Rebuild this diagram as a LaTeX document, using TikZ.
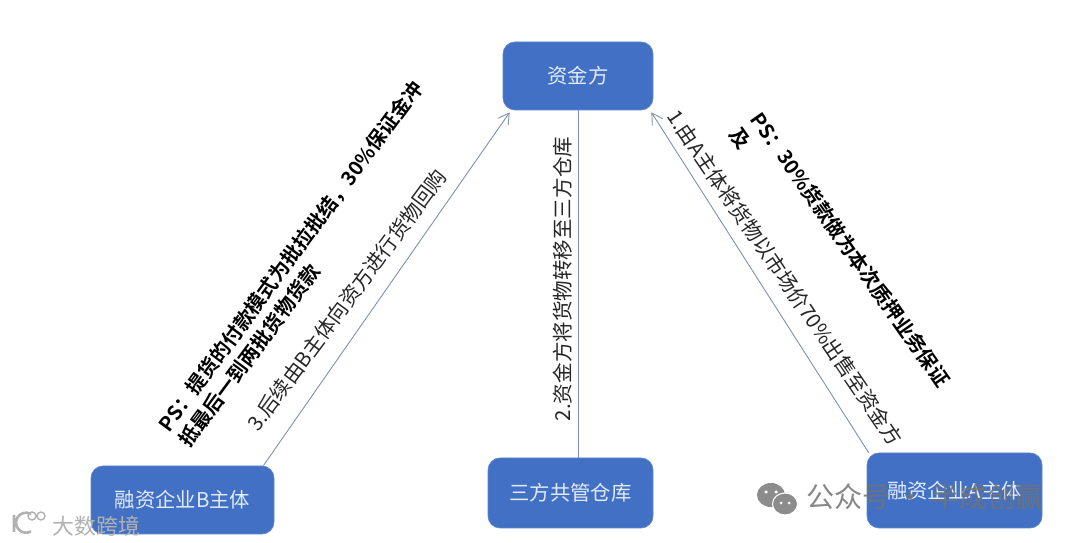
\documentclass[tikz,border=0pt]{standalone}
\usepackage{fontspec}
\setmainfont{Noto Sans CJK SC}[BoldFont={Noto Sans CJK SC Bold}]
\usepackage{xcolor}
\usetikzlibrary{arrows.meta,positioning,calc}
\definecolor{boxblue}{HTML}{4270C4}
\definecolor{linkgray}{HTML}{7C90AE}
\definecolor{boxtext}{HTML}{E2ECF8}

\begin{document}
\begin{tikzpicture}[
  party/.style={draw=boxblue!85!white,fill=boxblue,rounded corners=0.24cm,text=boxtext,font=\fontsize{11.6}{14}\selectfont,inner sep=0pt},
  linklab/.style={font=\fontsize{11.7}{14}\selectfont,text=black!85,inner sep=0pt},
  pslab/.style={font=\fontsize{11.4}{14.7}\selectfont\bfseries,align=left,inner sep=0pt},
  link/.style={linkgray,line width=0.5pt},
  linkarrow/.style={link,-{Straight Barb[length=6pt,width=7pt,line width=0.5pt]}},
  markgray/.style={text=black!55,opacity=0.85,font=\fontsize{16}{18}\selectfont,inner sep=0pt}
]
\useasboundingbox (0,0) rectangle (21.6,10.86);
\fill[white] (0,0) rectangle (21.6,10.86);

\node[party,minimum width=3cm,minimum height=1.36cm] (fund) at (11.56,9.34) {资金方};
\node[party,minimum width=3.66cm,minimum height=1.36cm] (firmb) at (3.65,0.86) {融资企业B主体};
\node[party,minimum width=3.3cm,minimum height=1.4cm] (store) at (11.41,1.0) {三方共管仓库};
\node[party,minimum width=3.5cm,minimum height=1.5cm] (firma) at (19.09,1.05) {融资企业A主体};

\draw[linkarrow] ([xshift=-0.22cm]firmb.north east) -- ([shift={(0.14,-0.04)}]fund.south west);
\draw[link] (fund.south) -- (fund.south |- store.north);
\draw[linkarrow] ([xshift=0.04cm]firma.north west) -- ([shift={(-0.04,-0.04)}]fund.south east);

\node[linklab,rotate=53.4] (labthree) at (6.94,4.86) {3.后续由B主体向资方进行货物回购};
\node[linklab,rotate=90] (labtwo) at (11.26,5.28) {2.资金方将货物转移至三方仓库};
\node[linklab,rotate=-55.8] (labone) at (15.7,5.30) {1.由A主体将货物以市场价70\%出售至资金方};
\node[pslab,rotate=53.5] (psleft) at (6.02,5.58) {PS：提货的付款模式为批拉批结，30\%保证金冲\\抵最后一到两批货物货款};
\node[pslab,rotate=-55] (psright) at (16.8,5.72) {PS：30\%货款做为本次质押业务保证\\及};

% watermarks
\node[text=black!30,font=\fontsize{12.4}{14}\selectfont,inner sep=0pt] (markb) at (1.93,0.34) {大数跨境};
\draw[black!30,line width=1.5pt] (0.28,0.56) -- (0.28,0.22) (0.62,0.58) arc (60:300:0.2);
\draw[black!30,line width=0.8pt] (0.64,0.54) circle (0.08) (0.82,0.54) circle (0.08);
\fill[black!45] (15.42,0.96) ellipse (0.28 and 0.24);
\fill[black!45,draw=white,line width=0.6pt] (15.7,0.78) ellipse (0.25 and 0.22);
\fill[white] (15.32,1.02) circle (0.035) (15.52,1.02) circle (0.035) (15.62,0.8) circle (0.03) (15.78,0.8) circle (0.03);
\node[markgray,anchor=west] (markw) at (16.12,0.92) {公众号 · 半成创赢};
\end{tikzpicture}
\end{document}
